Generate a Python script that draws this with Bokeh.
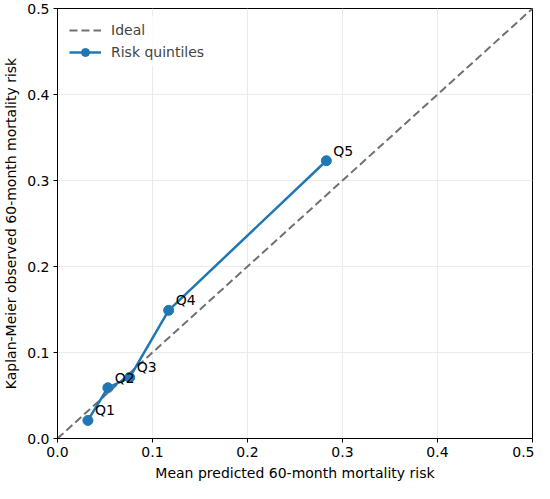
from bokeh.plotting import figure
from bokeh.models import Legend, LegendItem, ColumnDataSource, FixedTicker, Range1d, PrintfTickFormatter
from bokeh.embed import file_html
from bokeh.resources import INLINE
from bokeh.core.properties import value

# data
quintile_labels = ["Q1", "Q2", "Q3", "Q4", "Q5"]
mean_predicted = [0.032, 0.053, 0.076, 0.117, 0.283]
km_observed = [0.021, 0.059, 0.071, 0.149, 0.323]
ideal_x = [0.0, 0.5]
ideal_y = [0.0, 0.5]
ticks = [0.0, 0.1, 0.2, 0.3, 0.4, 0.5]

FONT = "DejaVu Sans"

p = figure(width=534, height=483, output_backend="svg", toolbar_location=None,
           x_range=Range1d(0, 0.5), y_range=Range1d(0, 0.5),
           min_border_left=52, min_border_right=2, min_border_top=8, min_border_bottom=40)

p.outline_line_color = "black"
p.outline_line_width = 1
p.background_fill_color = "white"

for ax in (p.xaxis[0], p.yaxis[0]):
    ax.ticker = FixedTicker(ticks=ticks)
    ax.formatter = PrintfTickFormatter(format="%.1f")
    ax.minor_tick_line_color = None
    ax.major_tick_in = 0
    ax.major_tick_out = 4
    ax.major_tick_line_color = "black"
    ax.axis_line_color = "black"
    ax.major_label_text_font = FONT
    ax.major_label_text_font_size = "14px"
    ax.major_label_text_color = "black"
    ax.major_label_standoff = 4
    ax.axis_label_text_font = FONT
    ax.axis_label_text_font_size = "14px"
    ax.axis_label_text_font_style = "normal"
    ax.axis_label_text_color = "black"

p.xaxis.axis_label = "Mean predicted 60-month mortality risk"
p.yaxis.axis_label = "Kaplan-Meier observed 60-month mortality risk"
p.xaxis.axis_label_standoff = 5
p.yaxis.axis_label_standoff = 5

p.xgrid.ticker = FixedTicker(ticks=ticks)
p.ygrid.ticker = FixedTicker(ticks=ticks)
p.grid.grid_line_color = "#ebebeb"
p.grid.grid_line_width = 1

src = ColumnDataSource(dict(x=mean_predicted, y=km_observed, label=quintile_labels))

r_ideal = p.line(ideal_x, ideal_y, line_color="#707070", line_width=2, line_dash="8 4")
r_line = p.line("x", "y", source=src, line_color="#1f77b4", line_width=2.5)
r_pts = p.scatter("x", "y", source=src, size=10, fill_color="#1f77b4", line_color="#1f77b4")

p.text("x", "y", text="label", source=src, x_offset=7, y_offset=-2,
       text_font=value(FONT), text_font_size="14px", text_color="black",
       text_baseline="bottom", text_align="left")

legend = Legend(items=[
    LegendItem(label="Ideal", renderers=[r_ideal]),
    LegendItem(label="Risk quintiles", renderers=[r_line, r_pts]),
], location="top_left")
legend.label_text_font = FONT
legend.label_text_font_size = "14px"
legend.border_line_alpha = 0
legend.background_fill_alpha = 0.8
legend.glyph_width = 32
legend.label_standoff = 10
legend.spacing = 2
legend.margin = 8
legend.padding = 4
p.add_layout(legend)

open("out.html", "w").write(file_html(p, INLINE))
